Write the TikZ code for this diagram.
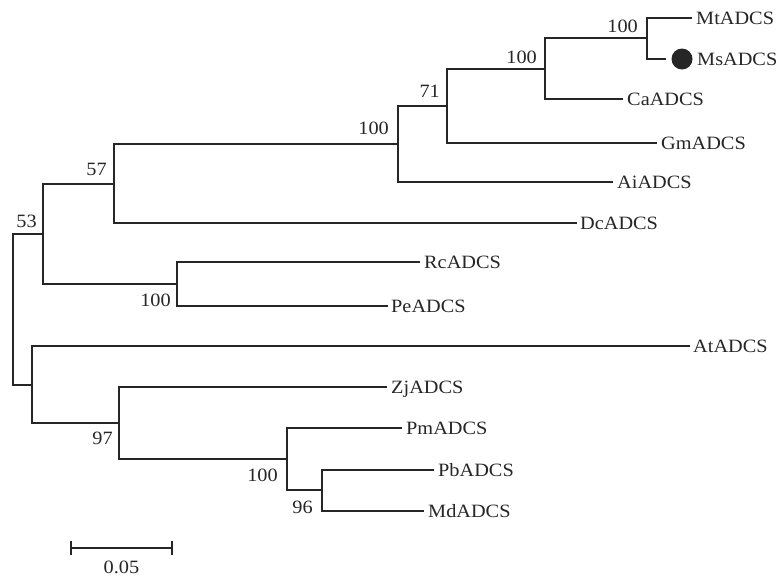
\documentclass[tikz,border=0pt]{standalone}
\usepackage{fontspec}
\setmainfont{Liberation Serif}[FakeStretch=1.08]
\definecolor{ink}{HTML}{262626}
\begin{document}
\begin{tikzpicture}[x=1pt,y=-1pt,
  branch/.style={draw=ink, line width=2pt},
  leaf/.style={anchor=base west, inner sep=0pt, text=ink, font=\fontsize{18.8}{21}\selectfont},
  boot/.style={anchor=base east, inner sep=0pt, text=ink, font=\fontsize{18.8}{21}\selectfont},
  marker/.style={circle, fill=ink, inner sep=0pt, minimum size=21pt}]
\useasboundingbox (0,0) rectangle (779,579);
% internal nodes
\coordinate (n1) at (647,38);
\coordinate (n2) at (545,69);
\coordinate (n3) at (447,106);
\coordinate (n4) at (398,144);
\coordinate (n5) at (114,184);
\coordinate (n6) at (177,284);
\coordinate (n7) at (43,234);
\coordinate (n9) at (322,490);
\coordinate (n10) at (287,459);
\coordinate (n11) at (119,423);
\coordinate (n12) at (32,385);
\coordinate (root) at (13,309);
% leaf ends
\coordinate (Mt) at (692,18);
\coordinate (Ms) at (666,59);
\coordinate (Ca) at (623,99);
\coordinate (Gm) at (657,143);
\coordinate (Ai) at (613,182);
\coordinate (Dc) at (577,223);
\coordinate (Rc) at (420,262);
\coordinate (Pe) at (388,306);
\coordinate (At) at (690,346);
\coordinate (Zj) at (387,387);
\coordinate (Pm) at (402,428);
\coordinate (Pb) at (434,470);
\coordinate (Md) at (424,511);
% branches
\draw[branch] (n1) |- (Mt);
\draw[branch] (n1) |- (Ms);
\draw[branch] (n2) |- (n1);
\draw[branch] (n2) |- (Ca);
\draw[branch] (n3) |- (n2);
\draw[branch] (n3) |- (Gm);
\draw[branch] (n4) |- (n3);
\draw[branch] (n4) |- (Ai);
\draw[branch] (n5) |- (n4);
\draw[branch] (n5) |- (Dc);
\draw[branch] (n6) |- (Rc);
\draw[branch] (n6) |- (Pe);
\draw[branch] (n7) |- (n5);
\draw[branch] (n7) |- (n6);
\draw[branch] (n9) |- (Pb);
\draw[branch] (n9) |- (Md);
\draw[branch] (n10) |- (Pm);
\draw[branch] (n10) |- (n9);
\draw[branch] (n11) |- (Zj);
\draw[branch] (n11) |- (n10);
\draw[branch] (n12) |- (At);
\draw[branch] (n12) |- (n11);
\draw[branch] (root) |- (n7);
\draw[branch] (root) |- (n12);
% leaf labels
\node[leaf] (tMt) at (696,24) {MtADCS};
\node[marker] (dotMs) at (682,59) {};
\node[leaf] (tMs) at (697,65) {MsADCS};
\node[leaf] (tCa) at (627,105) {CaADCS};
\node[leaf] (tGm) at (661,149) {GmADCS};
\node[leaf] (tAi) at (617,188) {AiADCS};
\node[leaf] (tDc) at (580,229) {DcADCS};
\node[leaf] (tRc) at (424,268) {RcADCS};
\node[leaf] (tPe) at (391,312) {PeADCS};
\node[leaf] (tAt) at (693,352) {AtADCS};
\node[leaf] (tZj) at (391,393) {ZjADCS};
\node[leaf] (tPm) at (406,434) {PmADCS};
\node[leaf] (tPb) at (438,476) {PbADCS};
\node[leaf] (tMd) at (428,517) {MdADCS};
% bootstrap values
\node[boot] (b1) at (638,32) {100};
\node[boot] (b2) at (537,63) {100};
\node[boot] (b3) at (440,97) {71};
\node[boot] (b4) at (389,134) {100};
\node[boot] (b5) at (107,175) {57};
\node[boot] (b7) at (37,227) {53};
\node[boot] (b6) at (171,306) {100};
\node[boot] (b11) at (113,444) {97};
\node[boot] (b10) at (278,481) {100};
\node[boot] (b9) at (313,513) {96};
% scale bar
\coordinate (sL) at (71,548);
\coordinate (sR) at (172,548);
\draw[branch] (sL) -- (sR);
\draw[branch] ([yshift=-7pt]sL) -- ([yshift=7pt]sL);
\draw[branch] ([yshift=-7pt]sR) -- ([yshift=7pt]sR);
\node[leaf, anchor=base] (scale) at (121.5,573) {0.05};
\end{tikzpicture}
\end{document}
